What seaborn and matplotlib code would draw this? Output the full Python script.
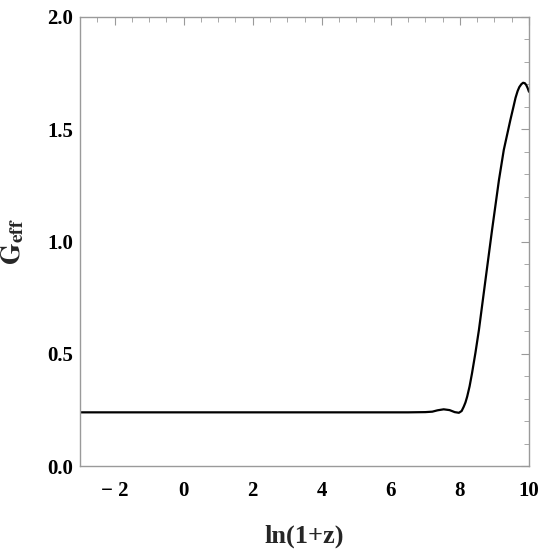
import matplotlib
matplotlib.use("Agg")
import matplotlib.pyplot as plt
import seaborn as sns
import pandas as pd
from matplotlib.ticker import MultipleLocator

# Data
ln1pz = [-3.0, 6.0, 6.5, 7.0, 7.2, 7.35, 7.53, 7.7, 7.85, 7.97, 8.05, 8.11,
         8.16, 8.21, 8.28, 8.35, 8.45, 8.55, 8.74, 8.93, 9.13, 9.27, 9.46,
         9.55, 9.61, 9.67, 9.72, 9.78, 9.83, 9.88, 9.92, 9.96, 10.0]
geff = [0.239, 0.239, 0.239, 0.240, 0.242, 0.248, 0.2525, 0.249, 0.240,
        0.237, 0.245, 0.264, 0.283, 0.309, 0.355, 0.413, 0.505, 0.606,
        0.829, 1.051, 1.274, 1.408, 1.541, 1.600, 1.640, 1.670, 1.688,
        1.701, 1.707, 1.705, 1.697, 1.684, 1.667]
xticks = [-2, 0, 2, 4, 6, 8, 10]
yticks = [0.0, 0.5, 1.0, 1.5, 2.0]

sns.set_theme(style="white")
plt.rcParams['font.family'] = ['Liberation Serif', 'DejaVu Serif']
plt.rcParams['font.weight'] = 'bold'
plt.rcParams['mathtext.fontset'] = 'stix'

df = pd.DataFrame({"x": ln1pz, "y": geff})

fig = plt.figure(figsize=(5.42, 5.53), dpi=100)
ax = fig.add_axes([80/542, 87/553, 449/542, 449/553])
sns.lineplot(data=df, x="x", y="y", ax=ax, color="black", linewidth=1.6,
             sort=False, estimator=None)

ax.set_xlim(-3, 10)
ax.set_ylim(0, 2)
ax.set_xticks(xticks)
ax.set_yticks(yticks)
ax.set_xticklabels([("\u2212 " + str(-t)) if t < 0 else str(t) for t in xticks])
ax.set_yticklabels([f"{t:.1f}" for t in yticks])
ax.xaxis.set_minor_locator(MultipleLocator(0.5))
ax.yaxis.set_minor_locator(MultipleLocator(0.1))

gray = "#9a9a9a"
for s in ax.spines.values():
    s.set_color(gray)
    s.set_linewidth(1.0)
ax.tick_params(which='both', direction='in', top=True, right=True,
               color=gray, labelsize=15, labelcolor='black')
ax.tick_params(which='major', length=6, width=0.8)
ax.tick_params(which='minor', length=3.5, width=0.6)
ax.tick_params(axis='x', which='major', pad=11)
ax.tick_params(axis='y', which='major', pad=5)
for lab in ax.get_xticklabels() + ax.get_yticklabels():
    lab.set_fontweight('bold')

ax.set_xlabel("ln(1+z)", fontsize=19, fontweight='bold', labelpad=17)
ax.set_ylabel(r"$\mathbf{G_{eff}}$", fontsize=20)
ax.yaxis.set_label_coords(-0.12, 0.5)
ax.grid(False)

fig.savefig("out.png", dpi=100)
